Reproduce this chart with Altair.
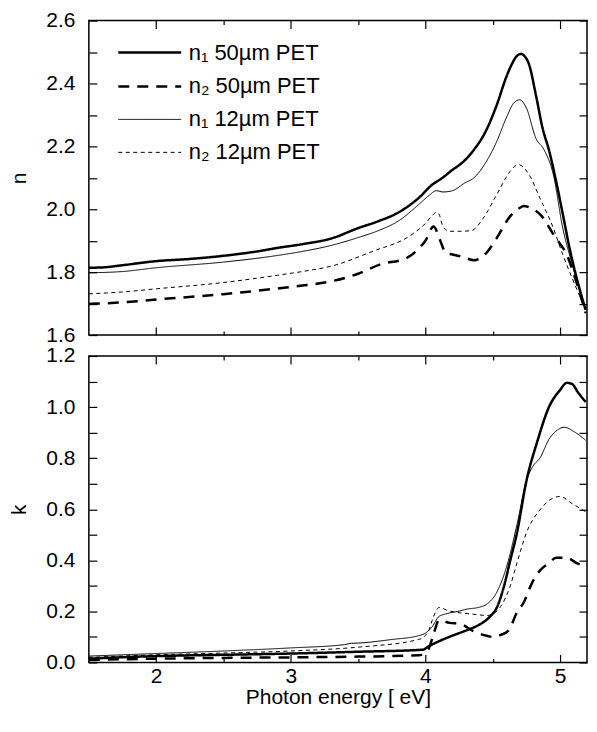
import altair as alt
import pandas as pd

# ---------------- data ----------------
SERIES = ["n\u2081 50\u00b5m PET", "n\u2082 50\u00b5m PET", "n\u2081 12\u00b5m PET", "n\u2082 12\u00b5m PET"]

# top panel: refractive index n
E_N1_50 = [1.50, 1.60, 1.75, 2.00, 2.25, 2.50, 2.75, 2.90, 3.10, 3.30, 3.50, 3.65, 3.80, 3.95, 4.05, 4.12, 4.20,
           4.27, 4.36, 4.45, 4.53, 4.60, 4.64, 4.68, 4.71, 4.74, 4.77, 4.82, 4.87, 4.92, 4.97, 5.02, 5.07, 5.13, 5.19]
N1_50 = [1.814, 1.815, 1.822, 1.835, 1.842, 1.852, 1.866, 1.877, 1.890, 1.907, 1.940, 1.962, 1.990, 2.036, 2.078,
         2.098, 2.125, 2.147, 2.189, 2.250, 2.332, 2.420, 2.460, 2.488, 2.494, 2.485, 2.460, 2.364, 2.258, 2.184,
         2.090, 1.985, 1.877, 1.770, 1.680]

E_N1_12 = [1.50, 1.75, 2.00, 2.50, 2.90, 3.10, 3.30, 3.50, 3.65, 3.80, 3.95, 4.03, 4.08, 4.13, 4.20, 4.29, 4.36,
           4.45, 4.53, 4.60, 4.66, 4.70, 4.75, 4.82, 4.88, 4.95, 5.02, 5.09, 5.19]
N1_12 = [1.798, 1.802, 1.814, 1.832, 1.853, 1.867, 1.885, 1.910, 1.932, 1.963, 2.015, 2.045, 2.059, 2.055, 2.059,
         2.083, 2.100, 2.150, 2.216, 2.290, 2.340, 2.348, 2.322, 2.226, 2.190, 2.110, 1.940, 1.825, 1.680]

E_N2_12 = [1.50, 1.75, 2.00, 2.50, 2.90, 3.10, 3.30, 3.60, 3.90, 4.00, 4.05, 4.08, 4.10, 4.13, 4.18, 4.25, 4.34,
           4.43, 4.53, 4.63, 4.69, 4.77, 4.85, 4.95, 5.02, 5.12, 5.19]
N2_12 = [1.731, 1.737, 1.747, 1.767, 1.790, 1.803, 1.819, 1.865, 1.920, 1.955, 1.980, 1.990, 1.985, 1.945, 1.930,
         1.930, 1.932, 1.972, 2.047, 2.121, 2.142, 2.110, 2.036, 1.940, 1.856, 1.750, 1.680]

E_N2_50 = [1.50, 1.75, 2.00, 2.50, 2.90, 3.10, 3.30, 3.50, 3.66, 3.86, 3.95, 4.00, 4.06, 4.11, 4.15, 4.20, 4.28,
           4.36, 4.45, 4.53, 4.63, 4.70, 4.73, 4.80, 4.86, 4.95, 5.06, 5.12, 5.19]
N2_50 = [1.699, 1.704, 1.713, 1.730, 1.748, 1.758, 1.771, 1.795, 1.824, 1.845, 1.875, 1.900, 1.945, 1.900, 1.862,
         1.856, 1.848, 1.838, 1.860, 1.909, 1.978, 2.004, 2.010, 2.000, 1.980, 1.920, 1.845, 1.770, 1.670]

# bottom panel: extinction coefficient k
E_K1_50 = [1.50, 2.00, 2.50, 3.00, 3.50, 3.98, 4.02, 4.10, 4.20, 4.31, 4.40, 4.48, 4.53, 4.58, 4.63, 4.68, 4.75,
           4.83, 4.92, 5.00, 5.05, 5.09, 5.13, 5.19]
K1_50 = [0.015, 0.025, 0.030, 0.035, 0.042, 0.050, 0.062, 0.083, 0.105, 0.127, 0.148, 0.180, 0.215, 0.292, 0.400,
         0.508, 0.711, 0.864, 1.003, 1.067, 1.095, 1.090, 1.060, 1.020]

E_K1_12 = [1.50, 2.00, 2.50, 3.00, 3.40, 3.45, 3.50, 3.75, 3.95, 4.00, 4.05, 4.10, 4.15, 4.24, 4.32, 4.39, 4.46,
           4.53, 4.60, 4.68, 4.75, 4.80, 4.85, 4.92, 4.98, 5.03, 5.10, 5.19]
K1_12 = [0.025, 0.035, 0.045, 0.057, 0.070, 0.075, 0.076, 0.090, 0.105, 0.115, 0.140, 0.180, 0.190, 0.200, 0.210,
         0.215, 0.230, 0.275, 0.370, 0.540, 0.711, 0.770, 0.800, 0.876, 0.910, 0.921, 0.905, 0.870]

E_K2_12 = [1.50, 2.00, 2.50, 3.00, 3.50, 3.95, 4.02, 4.06, 4.10, 4.17, 4.25, 4.34, 4.46, 4.50, 4.56, 4.63, 4.68,
           4.75, 4.85, 4.92, 5.00, 5.09, 5.19]
K2_12 = [0.020, 0.030, 0.037, 0.045, 0.060, 0.090, 0.120, 0.180, 0.215, 0.203, 0.195, 0.190, 0.184, 0.190, 0.220,
         0.300, 0.390, 0.508, 0.597, 0.635, 0.650, 0.622, 0.590]

E_K2_50 = [1.50, 2.00, 2.50, 3.00, 3.50, 3.95, 4.02, 4.06, 4.10, 4.18, 4.25, 4.36, 4.43, 4.50, 4.56, 4.62, 4.68,
           4.73, 4.78, 4.81, 4.87, 4.92, 4.97, 5.05, 5.12, 5.19]
K2_50 = [0.010, 0.015, 0.018, 0.020, 0.023, 0.028, 0.050, 0.110, 0.165, 0.155, 0.152, 0.122, 0.108, 0.100, 0.108,
         0.127, 0.197, 0.235, 0.298, 0.330, 0.370, 0.390, 0.410, 0.410, 0.390, 0.375]

# axis ticks
X_DOMAIN = [1.5, 5.2]
X_MAJOR = [2, 3, 4, 5]
X_MINOR = [2.5, 3.5, 4.5]
N_DOMAIN = [1.6, 2.6]
N_TICKS = [1.6, 1.7, 1.8, 1.9, 2.0, 2.1, 2.2, 2.3, 2.4, 2.5, 2.6]
K_DOMAIN = [0.0, 1.2]
K_TICKS = [0.0, 0.1, 0.2, 0.3, 0.4, 0.5, 0.6, 0.7, 0.8, 0.9, 1.0, 1.1, 1.2]


def long_frame(field, pairs):
    rows = []
    for name, (xs, ys) in zip(SERIES, pairs):
        for e, v in zip(xs, ys):
            rows.append({"E": e, field: v, "series": name})
    return pd.DataFrame(rows)


df_n = long_frame("n", [(E_N1_50, N1_50), (E_N2_50, N2_50), (E_N1_12, N1_12), (E_N2_12, N2_12)])
df_k = long_frame("k", [(E_K1_50, K1_50), (E_K2_50, K2_50), (E_K1_12, K1_12), (E_K2_12, K2_12)])

DASHES = [[1, 0], [11, 8], [1, 0], [4, 3.5]]
WIDTHS = [2.5, 2.5, 1.0, 1.0]

FONT = "Liberation Sans"
YLABEL_EXPR = "abs(round(datum.value * 10) % 2) < 0.5 ? format(datum.value, '.1f') : ''"
PW = 499


def tick_axis(values, orient, size):
    return alt.Axis(values=values, orient=orient, offset=-size, tickSize=size, labels=False,
                    title=None, minExtent=0, maxExtent=0)


def panel(df, field, ydom, yticks, ytitle, bottom_labels, legend, ph):
    xs = alt.Scale(domain=X_DOMAIN, nice=False, zero=False)
    ys = alt.Scale(domain=ydom, nice=False, zero=False)
    base = alt.Chart(df)

    lines = base.mark_line(color="black", interpolate="monotone", clip=True).encode(
        x=alt.X("E:Q", scale=xs,
                axis=alt.Axis(values=X_MAJOR, orient="bottom", offset=-8, tickSize=8,
                              labels=bottom_labels, labelPadding=3, format="d",
                              title="Photon energy [ eV]" if bottom_labels else None,
                              titlePadding=0)),
        y=alt.Y(f"{field}:Q", scale=ys,
                axis=alt.Axis(values=yticks, orient="left", offset=-8, tickSize=8,
                              labelPadding=14, labelExpr=YLABEL_EXPR,
                              title=ytitle, titlePadding=16)),
        strokeDash=alt.StrokeDash("series:N", scale=alt.Scale(domain=SERIES, range=DASHES), legend=legend),
        strokeWidth=alt.StrokeWidth("series:N",
                                    scale=alt.Scale(type="ordinal", domain=SERIES, range=WIDTHS),
                                    legend=legend),
    )

    ghost = base.mark_point(opacity=0, size=0, strokeWidth=0)
    l2 = ghost.encode(
        x=alt.X("E:Q", scale=xs, axis=tick_axis(X_MINOR, "bottom", 4)),
        y=alt.Y(f"{field}:Q", scale=ys, axis=tick_axis(yticks, "right", 8)),
    )
    l3 = ghost.encode(
        x=alt.X("E:Q", scale=xs, axis=tick_axis(X_MAJOR, "top", 8)),
        y=alt.Y(f"{field}:Q", scale=ys, axis=None),
    )
    l4 = ghost.encode(
        x=alt.X("E:Q", scale=xs, axis=tick_axis(X_MINOR, "top", 4)),
        y=alt.Y(f"{field}:Q", scale=ys, axis=None),
    )
    return (alt.layer(lines, l2, l3, l4)
            .resolve_scale(x="independent", y="independent")
            .properties(width=PW, height=ph))


# a wide horizontal stroke symbol (custom path, 3x the nominal symbol size)
legend_top = alt.Legend(title=None, orient="none", legendX=49, legendY=20,
                        symbolType="M-3,0L3,0", symbolSize=441, symbolStrokeColor="black",
                        labelFont=FONT, labelFontSize=22, labelColor="black",
                        labelOffset=27, rowPadding=11, padding=0, labelLimit=0)

top = panel(df_n, "n", N_DOMAIN, N_TICKS, "n", False, legend_top, 315)
bottom = panel(df_k, "k", K_DOMAIN, K_TICKS, "k", True, None, 307)

chart = (
    alt.vconcat(top, bottom, spacing=21, bounds="flush")
    .resolve_scale(strokeDash="independent", strokeWidth="independent")
    .properties(padding={"left": 0, "top": 0, "right": 0, "bottom": 0})
    .configure_view(stroke="black", strokeWidth=1.5)
    .configure_axis(domain=False, grid=False, tickColor="black", tickWidth=1.2,
                    labelFont=FONT, labelFontSize=21, labelColor="black",
                    labelFlush=False, labelOverlap=False,
                    titleFont=FONT, titleFontSize=21, titleFontWeight="normal", titleColor="black")
)

chart.save("out.html", embed_options={"renderer": "svg", "actions": False})
